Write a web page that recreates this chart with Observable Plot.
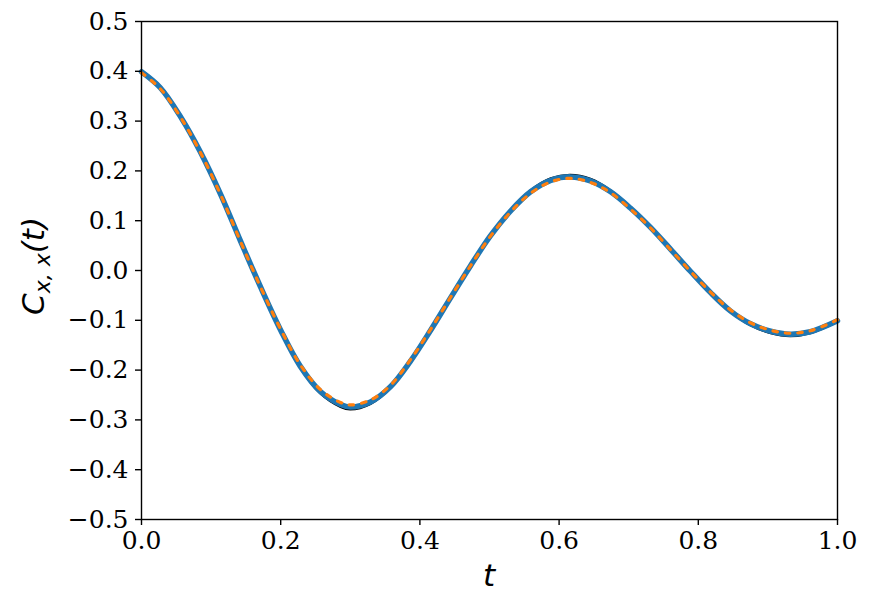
<!DOCTYPE html>
<html><head><meta charset="utf-8">
<script src="https://cdn.jsdelivr.net/npm/d3@7"></script>
<script src="https://cdn.jsdelivr.net/npm/@observablehq/plot@0.6"></script>
<style>body{margin:0;background:#fff}</style>
</head><body><div id="chart"></div>
<script>
const tValues =      [0, 0.027, 0.056, 0.085, 0.114, 0.142, 0.171, 0.2, 0.228, 0.257, 0.286, 0.3, 0.329, 0.358, 0.386, 0.415, 0.444, 0.473, 0.501, 0.530, 0.559, 0.588, 0.616, 0.645, 0.674, 0.702, 0.731, 0.760, 0.789, 0.818, 0.846, 0.875, 0.904, 0.932, 0.961, 1.0];
const blueValues =   [0.399, 0.367, 0.309, 0.237, 0.152, 0.060, -0.033, -0.120, -0.192, -0.243, -0.269, -0.274, -0.264, -0.233, -0.183, -0.121, -0.055, 0.010, 0.069, 0.119, 0.158, 0.181, 0.188, 0.180, 0.158, 0.126, 0.087, 0.043, -0.002, -0.045, -0.081, -0.107, -0.122, -0.128, -0.123, -0.101];
const orangeValues = [0.397, 0.365, 0.308, 0.236, 0.151, 0.059, -0.033, -0.118, -0.189, -0.239, -0.265, -0.270, -0.260, -0.230, -0.180, -0.119, -0.054, 0.010, 0.068, 0.117, 0.155, 0.178, 0.185, 0.177, 0.156, 0.124, 0.086, 0.042, -0.002, -0.044, -0.079, -0.105, -0.120, -0.126, -0.121, -0.099];
const blackValues =  [0.402, 0.370, 0.312, 0.239, 0.153, 0.060, -0.034, -0.122, -0.195, -0.247, -0.274, -0.279, -0.268, -0.236, -0.186, -0.123, -0.056, 0.010, 0.070, 0.121, 0.161, 0.185, 0.192, 0.184, 0.161, 0.128, 0.088, 0.044, -0.002, -0.046, -0.083, -0.110, -0.126, -0.132, -0.126, -0.103];
const xTicks = [0, 0.2, 0.4, 0.6, 0.8, 1.0];
const yTicks = [-0.5, -0.4, -0.3, -0.2, -0.1, 0.0, 0.1, 0.2, 0.3, 0.4, 0.5];

const rows = vals => tValues.map((t, i) => ({t, v: vals[i]}));

const plot = Plot.plot({
  width: 872, height: 610,
  marginLeft: 141, marginRight: 35, marginTop: 21, marginBottom: 91,
  style: {fontFamily: "DejaVu Serif", fontSize: "25px", color: "black", background: "white", overflow: "visible"},
  x: {domain: [0, 1]},
  y: {domain: [-0.5, 0.5]},
  marks: [
    Plot.line(rows(blackValues), {x: "t", y: "v", stroke: "black", strokeWidth: 2.2, curve: "catmull-rom"}),
    Plot.line(rows(blueValues), {x: "t", y: "v", stroke: "#1f77b4", strokeWidth: 5.5, curve: "catmull-rom"}),
    Plot.line(rows(orangeValues), {x: "t", y: "v", stroke: "#ff7f0e", strokeWidth: 3.2, strokeDasharray: "4.5,8", curve: "catmull-rom"}),
    Plot.frame({stroke: "black", strokeWidth: 1.4}),
    Plot.axisX({ticks: xTicks, tickFormat: ".1f", tickSize: 6, tickPadding: 6, fontSize: 25, label: null, strokeWidth: 1.4}),
    Plot.axisY({ticks: yTicks, tickFormat: ".1f", tickSize: 6, tickPadding: 7, fontSize: 25, label: null, strokeWidth: 1.4})
  ]
});
document.getElementById("chart").appendChild(plot);

const svg = d3.select(plot);
// y axis label C_{x,x}(t)
const yl = svg.append("text")
  .attr("transform", "translate(44,266) rotate(-90)")
  .attr("text-anchor", "middle")
  .attr("font-family", "DejaVu Sans")
  .attr("font-style", "italic")
  .attr("font-size", 31)
  .attr("fill", "black");
yl.append("tspan").text("C");
yl.append("tspan").attr("font-size", 22).attr("dy", 6).text("x, x");
yl.append("tspan").attr("dy", -6).text("(t)");
// x axis label
svg.append("text")
  .attr("x", 489).attr("y", 586)
  .attr("text-anchor", "middle")
  .attr("font-family", "DejaVu Sans")
  .attr("font-style", "italic")
  .attr("font-size", 31)
  .attr("fill", "black")
  .text("t");
</script>
</body></html>
